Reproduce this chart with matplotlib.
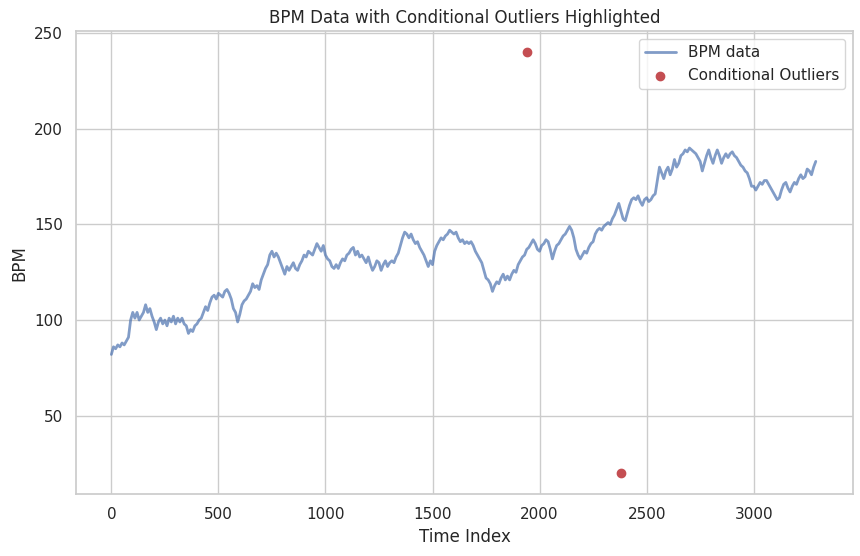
import numpy as np
import matplotlib
matplotlib.use("Agg")
import matplotlib.pyplot as plt
import seaborn as sns

# BPM values, one every 10 time steps (0 .. 3290)
bpm = [
    82, 86, 85, 87, 86, 88, 87, 89, 91, 100, 104, 101, 104, 100, 102, 104, 108, 104, 106, 102,
    99, 95, 99, 101, 98, 100, 97, 101, 99, 102, 98, 101, 99, 101, 98, 97, 93, 95, 94, 97,
    98, 100, 101, 104, 107, 105, 109, 112, 113, 111, 114, 113, 112, 115, 116, 114, 111, 106, 104, 99,
    103, 108, 110, 111, 113, 115, 119, 117, 118, 116, 121, 124, 127, 129, 134, 136, 133, 135, 133, 130,
    127, 124, 128, 126, 128, 130, 127, 126, 129, 131, 134, 133, 136, 135, 134, 137, 140, 138, 136, 139,
    134, 132, 131, 128, 127, 129, 127, 130, 132, 131, 134, 135, 137, 138, 134, 136, 133, 134, 132, 130,
    133, 129, 126, 128, 131, 130, 126, 129, 131, 128, 130, 131, 130, 133, 135, 139, 143, 146, 145, 143,
    145, 142, 140, 141, 138, 136, 134, 131, 128, 131, 129, 136, 139, 141, 143, 142, 144, 145, 147, 146,
    145, 146, 143, 141, 142, 140, 141, 140, 141, 139, 136, 134, 132, 130, 126, 122, 121, 119, 115, 118,
    120, 119, 122, 124, 121, 123, 121, 124, 126, 125, 129, 131, 133, 134, 137, 138, 140, 142, 140, 137,
    136, 139, 140, 142, 141, 137, 132, 136, 139, 140, 142, 144, 145, 147, 149, 147, 143, 137, 134, 132,
    134, 136, 135, 138, 140, 141, 145, 147, 148, 147, 149, 150, 151, 150, 153, 155, 158, 161, 157, 153,
    152, 156, 160, 163, 164, 163, 165, 162, 160, 163, 164, 162, 163, 165, 166, 173, 180, 177, 174, 178,
    180, 176, 179, 184, 180, 182, 186, 187, 189, 188, 190, 189, 188, 187, 185, 183, 178, 182, 186, 189,
    185, 182, 186, 189, 186, 182, 185, 187, 185, 187, 188, 186, 185, 183, 181, 180, 178, 177, 174, 170,
    170, 168, 170, 172, 171, 173, 173, 171, 169, 167, 165, 163, 164, 168, 171, 172, 169, 167, 170, 172,
    171, 174, 176, 174, 175, 179, 178, 176, 180, 183,
]
step = 10

# conditional outliers
outlier_idx = [1940, 2380]
outlier_bpm = [240, 20]

sns.set_theme(style="whitegrid")

time_index = np.arange(len(bpm)) * step

fig = plt.figure(figsize=(8.6, 5.56), dpi=100)
ax = fig.add_axes([0.0884, 0.1115, 0.9035, 0.832])

ax.plot(time_index, bpm, color="#4C72B0", alpha=0.7, lw=2.0, label="BPM data")
ax.scatter(outlier_idx, outlier_bpm, color="#C44E52", s=36, zorder=3, label="Conditional Outliers")

ax.set_title("BPM Data with Conditional Outliers Highlighted")
ax.set_xlabel("Time Index")
ax.set_ylabel("BPM")
ax.set_xlim(-165, 3464)
ax.set_ylim(9, 251)
ax.legend(loc="upper right")

fig.savefig("out.png", dpi=100)
plt.close()
